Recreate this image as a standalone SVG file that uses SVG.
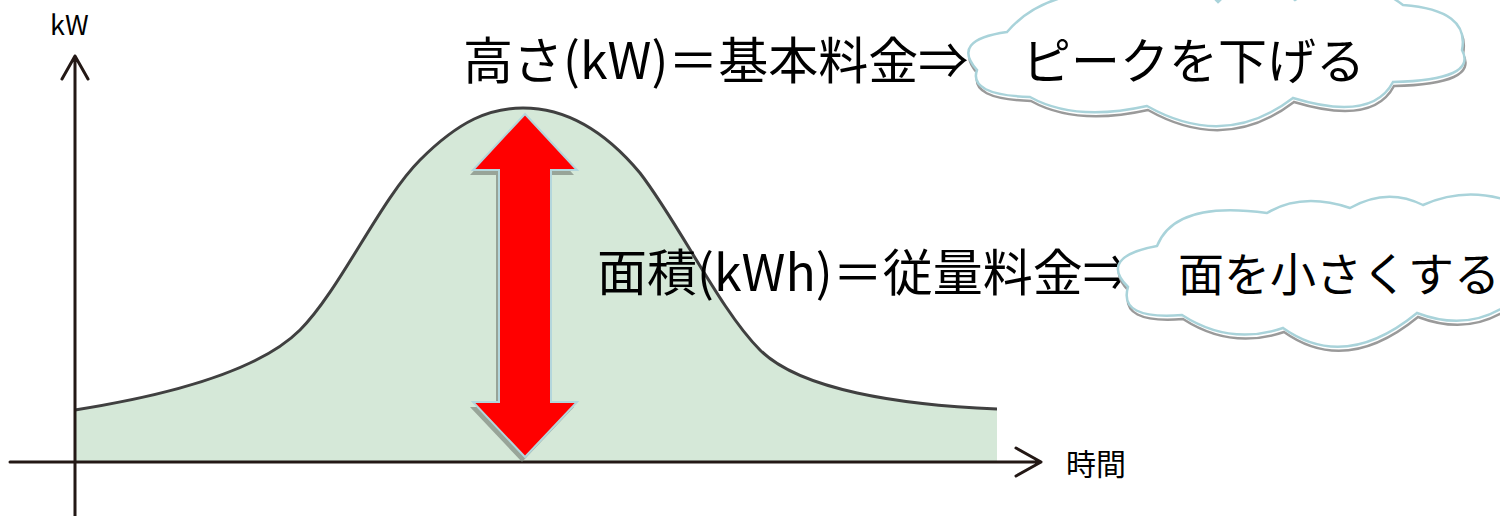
<svg xmlns="http://www.w3.org/2000/svg" width="1500" height="516" viewBox="0 0 1500 516">
<style>
.ax{fill:none;stroke:#231815;stroke-width:3;stroke-linecap:round;stroke-linejoin:round}
.t{font-family:"Noto Sans CJK JP","Noto Sans",sans-serif;fill:#000}
.cl{fill:#fff;stroke:#a9d3da;stroke-width:2.5}
.cs{fill:none;stroke:#9a9a9a;stroke-width:2.5}
</style>
<defs>
<path id="cloud1" d="M1007,32 Q1050,-18 1140,-5 Q1180,-40 1218,2 Q1255,-35 1295,0 Q1350,-35 1403,5 Q1470,10 1462,50 Q1478,80 1393,82 Q1372,122 1293,98 Q1225,150 1147,106 Q1075,122 1030,97 Q968,95 977,70 Q950,40 1007,32 Z"/>
<path id="cloud2" d="M1157,246 Q1175,200 1267,213 Q1302,192 1350,208 Q1387,187 1423,205 Q1470,184 1520,205 L1520,295 Q1475,335 1417,313 Q1345,372 1283,328 Q1230,346 1182,315 Q1118,320 1128,287 Q1098,257 1157,246 Z"/>
<polygon id="arr" points="525,114 577,170 551,170 551,402 577,402 525,457 473,402 499,402 499,170 473,170"/>
</defs>
<g id="area">
<path d="M75,410 C170,395 260,370 300,330 C340,290 380,200 420,160 C460,120 490,108 523,108 C560,108 600,125 640,173 C680,225 720,310 760,350 C800,390 900,405 997,409 L997,462 L75,462 Z" fill="#d5e8d8"/>
<path d="M75,410 C170,395 260,370 300,330 C340,290 380,200 420,160 C460,120 490,108 523,108 C560,108 600,125 640,173 C680,225 720,310 760,350 C800,390 900,405 997,409" fill="none" stroke="#404040" stroke-width="3"/>
</g>
<g id="connectors">
<path class="ax" d="M75,516 L75,56 M62,79 L75,56 L88,79"/>
<path class="ax" d="M10,462 L1041,462 M1016,448 L1041,462 L1016,476"/>
</g>
<g id="arrow">
<use href="#arr" transform="translate(-3,5)" fill="#7d877d" opacity="0.7"/>
<use href="#arr" fill="#ff0000" stroke="#b3d6dc" stroke-width="2"/>
</g>
<g id="labels">
<text class="t" x="50" y="35" font-size="27">kW</text>
<text class="t" x="1066" y="475" font-size="30">時間</text>
<text class="t" x="463" y="79" font-size="50">高さ(kW)＝基本料金⇒</text>
<text class="t" x="597" y="291" font-size="50">面積(kWh)＝従量料金⇒</text>
</g>
<g id="cloud-top">
<use href="#cloud1" class="cs" transform="translate(1,4)"/>
<use href="#cloud1" class="cl"/>
<text class="t" x="1022" y="79" font-size="49">ピークを下げる</text>
</g>
<g id="cloud-bottom">
<use href="#cloud2" class="cs" transform="translate(1,4)"/>
<use href="#cloud2" class="cl"/>
<text class="t" x="1178" y="291" font-size="46">面を小さくする</text>
</g>
</svg>
